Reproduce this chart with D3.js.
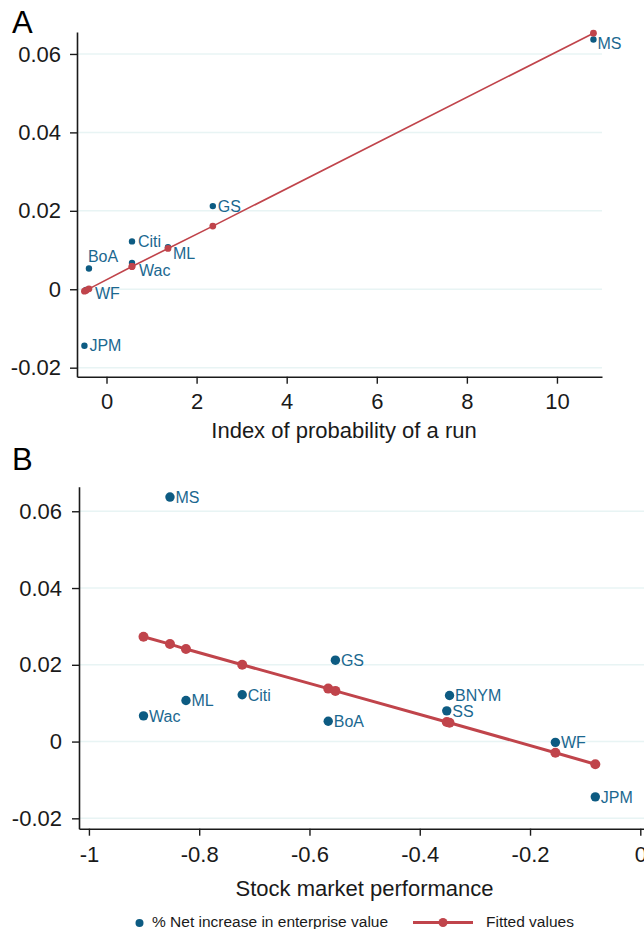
<!DOCTYPE html>
<html>
<head>
<meta charset="utf-8">
<script src="https://cdn.jsdelivr.net/npm/d3@7"></script>
<style>
  body { margin: 0; background: #fff; }
  text { font-family: "Liberation Sans", Arial, sans-serif; }
</style>
</head>
<body>
<script>
// banks and their % net increase in enterprise value (same y in both panels)
var banks      = ["MS", "GS", "Citi", "Wac", "ML", "BoA", "BNYM", "SS", "WF", "JPM"];
var netIncrease = [0.0637, 0.0212, 0.0122, 0.0067, 0.0107, 0.0053, 0.0120, 0.0080, -0.0002, -0.0144];

// panel A: index of probability of a run (no value for BNYM, SS)
var runIndex  = [10.81, 2.36, 0.566, 0.566, 1.365, -0.39, null, null, -0.455, -0.49];
var fittedA   = [0.0653, 0.0161, 0.0058, 0.0058, 0.0104, 0.0001, null, null, -0.0003, -0.0005];

// panel B: stock market performance
var stockPerf = [-0.853, -0.553, -0.722, -0.901, -0.824, -0.566, -0.346, -0.351, -0.154, -0.0816];
var fittedB   = [0.0254, 0.0132, 0.0200, 0.0273, 0.0241, 0.0138, 0.0049, 0.0051, -0.0029, -0.0059];

var yTicks = [-0.02, 0, 0.02, 0.04, 0.06];
var yTickLabels = ["-0.02", "0", "0.02", "0.04", "0.06"];
var xTicksA = [0, 2, 4, 6, 8, 10];
var xTickLabelsA = ["0", "2", "4", "6", "8", "10"];
var xTicksB = [-1, -0.8, -0.6, -0.4, -0.2, 0];
var xTickLabelsB = ["-1", "-0.8", "-0.6", "-0.4", "-0.2", "0"];

var legendLabels = ["% Net increase in enterprise value", "Fitted values"];

// label offsets (marker label positions) per panel
var labelPosA = { MS: [4, 4], GS: [5, 0], Citi: [6, 0], Wac: [7, 7], ML: [5, 6],
                  BoA: [-1, -12], WF: [9, 3], JPM: [5, 0] };
var labelPosB = {};

var blue = "#0d5b82", blueText = "#1b6890", red = "#c0444b";
var grid = "#e8f4f4", ink = "#1a1a1a";

var svg = d3.select("body").append("svg")
    .attr("width", 644)
    .attr("height", 929);

function panel(cfg) {
  var g = svg.append("g");
  var x = d3.scaleLinear().domain(cfg.xDomain).range(cfg.xRange);
  var y = d3.scaleLinear().domain(cfg.yDomain).range(cfg.yRange);

  // gridlines
  g.selectAll(".grid").data(yTicks).enter().append("line")
    .attr("x1", cfg.xRange[0]).attr("x2", cfg.xRange[1])
    .attr("y1", function(d) { return y(d); })
    .attr("y2", function(d) { return y(d); })
    .attr("stroke", grid).attr("stroke-width", 1.5);

  var yAxis = d3.axisLeft(y).tickValues(yTicks)
    .tickFormat(function(d, i) { return yTickLabels[i]; })
    .tickSize(7).tickPadding(cfg.yPad).tickSizeOuter(0);
  var ya = g.append("g").attr("transform", "translate(" + cfg.xRange[0] + ",0)").call(yAxis);

  var xAxis = d3.axisBottom(x).tickValues(cfg.xTicks)
    .tickFormat(function(d, i) { return cfg.xTickLabels[i]; })
    .tickSize(7).tickPadding(cfg.xPad).tickSizeOuter(0);
  var xa = g.append("g").attr("transform", "translate(0," + cfg.yRange[0] + ")").call(xAxis);

  [ya, xa].forEach(function(a) {
    a.select(".domain").attr("stroke", ink).attr("stroke-width", 1.6);
    a.selectAll(".tick line").attr("stroke", ink).attr("stroke-width", 1.4);
    a.selectAll(".tick text").attr("fill", ink).attr("font-size", 22)
      .style("font-family", "'Liberation Sans', Arial, sans-serif");
  });

  g.append("text")
    .attr("x", cfg.titleX).attr("y", cfg.titleY)
    .attr("text-anchor", "middle").attr("font-size", 22).attr("fill", ink)
    .text(cfg.title);

  g.append("text")
    .attr("x", 12).attr("y", cfg.letterY)
    .attr("font-size", 31).attr("fill", "#000")
    .text(cfg.letter);

  var pts = banks.map(function(b, i) {
    return { bank: b, x: cfg.xs[i], y: netIncrease[i], fit: cfg.fit[i] };
  }).filter(function(d) { return d.x != null; });

  // scatter
  g.selectAll(".dot").data(pts).enter().append("circle")
    .attr("cx", function(d) { return x(d.x); })
    .attr("cy", function(d) { return y(d.y); })
    .attr("r", cfg.dotR)
    .attr("fill", blue);

  g.selectAll(".lbl").data(pts).enter().append("text")
    .attr("x", function(d) { var o = cfg.labelPos[d.bank] || [5.5, 0]; return x(d.x) + o[0]; })
    .attr("y", function(d) { var o = cfg.labelPos[d.bank] || [5.5, 0]; return y(d.y) + o[1]; })
    .attr("dy", "0.36em")
    .attr("font-size", 16)
    .attr("fill", blueText)
    .text(function(d) { return d.bank; });

  // fitted line
  var sorted = pts.slice().sort(function(a, b) { return a.x - b.x; });
  var line = d3.line()
    .x(function(d) { return x(d.x); })
    .y(function(d) { return y(d.fit); });
  g.append("path").datum(sorted)
    .attr("d", line)
    .attr("fill", "none")
    .attr("stroke", red)
    .attr("stroke-width", cfg.lineW);
  g.selectAll(".fit").data(sorted).enter().append("circle")
    .attr("cx", function(d) { return x(d.x); })
    .attr("cy", function(d) { return y(d.fit); })
    .attr("r", cfg.fitR)
    .attr("fill", red);
}

panel({
  letter: "A", letterY: 32.5,
  xs: runIndex, fit: fittedA, labelPos: labelPosA,
  xDomain: [-0.655, 11.0], xRange: [77, 602],
  yDomain: [-0.0223, 0.0656], yRange: [376.7, 32],
  xTicks: xTicksA, xTickLabels: xTickLabelsA,
  yPad: 9, xPad: 10,
  title: "Index of probability of a run", titleX: 344, titleY: 438,
  dotR: 3.2, fitR: 3.4, lineW: 1.6
});

panel({
  letter: "B", letterY: 470,
  xs: stockPerf, fit: fittedB, labelPos: labelPosB,
  xDomain: [-1.018, 0.0176], xRange: [79, 650],
  yDomain: [-0.0227, 0.0664], yRange: [828.7, 486.7],
  xTicks: xTicksB, xTickLabels: xTickLabelsB,
  yPad: 10, xPad: 11,
  title: "Stock market performance", titleX: 364.5, titleY: 896,
  dotR: 4.7, fitR: 5, lineW: 3
});

// legend (bottom edge of the figure cuts it slightly, as in the source)
var leg = svg.append("g");
leg.append("circle").attr("cx", 139.5).attr("cy", 923).attr("r", 4).attr("fill", blue);
leg.append("text").attr("x", 152).attr("y", 926.5)
  .attr("font-size", 15.5).attr("fill", ink).text(legendLabels[0]);
leg.append("line").attr("x1", 413).attr("x2", 473).attr("y1", 922.5).attr("y2", 922.5)
  .attr("stroke", red).attr("stroke-width", 3);
leg.append("circle").attr("cx", 443).attr("cy", 922.5).attr("r", 4.5).attr("fill", red);
leg.append("text").attr("x", 486).attr("y", 926.5)
  .attr("font-size", 15.5).attr("fill", ink).text(legendLabels[1]);
</script>
</body>
</html>
